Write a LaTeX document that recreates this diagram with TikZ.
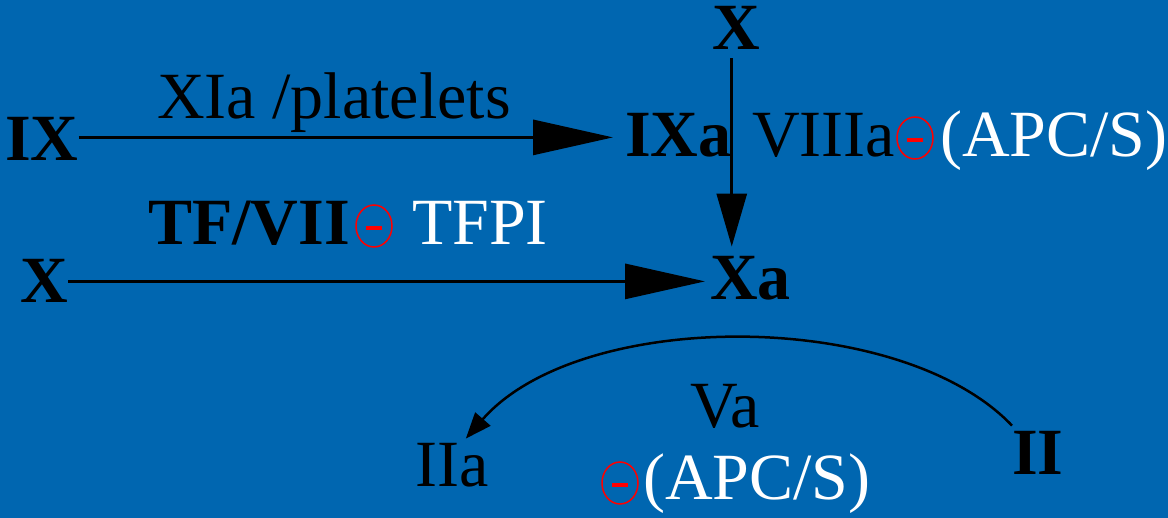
\documentclass[tikz,border=0pt]{standalone}
\usepackage{fontspec}
\setmainfont{Liberation Serif}
\usetikzlibrary{arrows.meta,shapes.geometric,calc}
\definecolor{bg}{RGB}{0,102,176}
\definecolor{minred}{RGB}{255,0,0}
\begin{document}
\begin{tikzpicture}[x=1pt,y=-1pt,
  lbl/.style={anchor=base west,inner sep=0pt,font=\fontsize{66}{70}\selectfont},
  bf/.style={lbl,font=\fontsize{66}{70}\selectfont\bfseries},
  wt/.style={lbl,text=white},
  conn/.style={line width=3pt,draw=black},
  bigtip/.style={-{Triangle[length=80pt,width=35pt]}},
  vtip/.style={-{Triangle[length=53pt,width=30pt]}},
  smalltip/.style={-{Triangle[length=26pt,width=20pt]}},
  minus/.style={ellipse,draw=minred,line width=1.5pt,minimum width=36pt,minimum height=42pt,inner sep=0pt,
    path picture={\fill[minred] ([xshift=-8pt,yshift=0pt]path picture bounding box.center) rectangle ([xshift=8pt,yshift=-4.5pt]path picture bounding box.center);}}
]
\fill[bg] (0,0) rectangle (1168,518);
\useasboundingbox (0,0) rectangle (1168,518);

% top row
\node[bf] (IX) at (5,161) {IX};
\node[lbl] (XIa) at (157,119) {XIa /platelets};
\node[bf] (IXa) at (625,157) {IXa};
\node[bf] (Xtop) at (712,50) {X};
\node[lbl] (VIIIa) at (752,157) {VIIIa};
\node[minus] (m1) at (915,138) {};
\node[wt] (apc1) at (940,157) {(APC/S)};

% middle row
\node[bf] (TF) at (148,245) {TF/VII};
\node[minus] (m2) at (374,226) {};
\node[wt] (TFPI) at (412,245) {TFPI};
\node[bf] (X2) at (20,303) {X};
\node[bf] (Xa) at (710,300) {Xa};

% bottom
\node[lbl] (Va) at (690,428) {Va};
\node[lbl] (IIa) at (415,487) {IIa};
\node[minus] (m3) at (620,483) {};
\node[wt] (apc2) at (643,500) {(APC/S)};
\node[bf] (II) at (1012,475) {II};

% connectors
\draw[conn,bigtip] ([yshift=2pt]IX.east) -- ([xshift=-12pt,yshift=2pt]IX.east -| IXa.west);
\draw[conn,bigtip] (X2.east) -- ([xshift=-5pt]X2.east -| Xa.west);
\draw[conn,vtip] ([yshift=-8pt]Xtop.south -| IXa.east) -- ([yshift=10pt]Xa.north -| IXa.east);
\draw[line width=2.5pt,smalltip] ([yshift=6pt]II.north west) .. controls (900,308) and (580,308) .. ($(IIa.north)+(14,-5)$);
\end{tikzpicture}
\end{document}
